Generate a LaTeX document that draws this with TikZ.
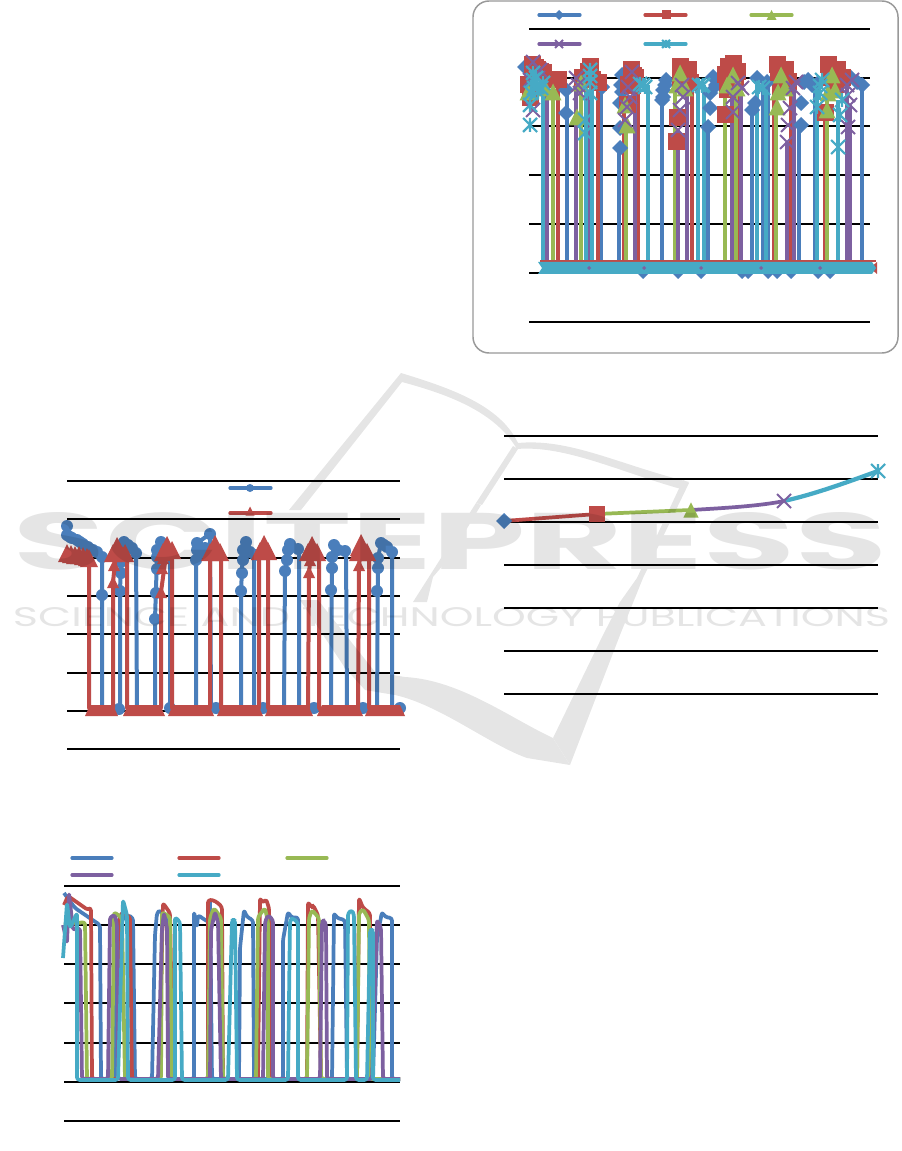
\documentclass[tikz,border=0pt]{standalone}
\usepackage{fontspec}
\newfontfamily\wmfont{Poppins}
\definecolor{seriesblue}{HTML}{4A7EBB}
\definecolor{seriesred}{HTML}{BE4B48}
\definecolor{seriesgreen}{HTML}{98B954}
\definecolor{seriespurple}{HTML}{7D60A0}
\definecolor{seriesteal}{HTML}{46AAC5}
\tikzset{%
  % Specifications for style of lines:
       gridthin/.style = {draw=black, line width=0.8pt},
        gridmid/.style = {draw=black, line width=1.1pt},
      gridthick/.style = {draw=black, line width=1.5pt},
           base/.style = {line width=2.8pt, line join=round, rounded corners=2pt},
       lineblue/.style = {base, draw=seriesblue},
        linered/.style = {base, draw=seriesred},
      linegreen/.style = {base, draw=seriesgreen},
     linepurple/.style = {base, draw=seriespurple},
       lineteal/.style = {base, draw=seriesteal},
         legend/.style = {line width=2.4pt, line cap=round},
      watermark/.style = {inner sep=0pt, font=\wmfont, text=black},
}
% Markers of the charts: x, y, half size
\newcommand{\diamondmark}[3]{\fill[seriesblue] (#1,#2) ++(-#3,0) -- ++(#3,-#3) -- ++(#3,#3) -- ++(-#3,#3) -- cycle;}
\newcommand{\squaremark}[3]{\fill[seriesred] (#1,#2) ++(-#3,-#3) rectangle ++(2*#3,2*#3);}
\newcommand{\trianglemark}[4]{\fill[#4] (#1,#2) ++(0,-#3) -- ++(#3,2*#3) -- ++(-2*#3,0) -- cycle;}
\newcommand{\crossmark}[3]{\draw[seriespurple, line width=1.5pt] (#1,#2) ++(-#3,-#3) -- ++(2*#3,2*#3) ++(0,-2*#3) -- ++(-2*#3,2*#3);}
\newcommand{\starmark}[3]{\draw[seriesteal, line width=1.6pt] (#1,#2) ++(-#3,-#3) -- ++(2*#3,2*#3) ++(0,-2*#3) -- ++(-2*#3,2*#3) ++(#3,0) -- ++(0,-2*#3);}

\begin{document}
\begin{tikzpicture}[x=0.75pt, y=-0.75pt]
  \path[use as bounding box, fill=white] (0,0) rectangle (901,1151);

  % Chart at the top right: frame, legend, grid
  \draw[draw=black!40, line width=1.1pt, rounded corners=12pt] (473,1) rectangle (898,353);
  \foreach \ly in {29,273,322} \draw[gridthick] (529,\ly) -- (870,\ly);
  \foreach \ly in {78,126,175,224} \draw[gridthin] (529,\ly) -- (870,\ly);
  \draw[legend, seriesblue] (539,15) -- (580,15);
  \draw[legend, seriesred] (645,15) -- (686,15);
  \draw[legend, seriesgreen] (751,15) -- (792,15);
  \draw[legend, seriespurple] (539,44) -- (580,44);
  \draw[legend, seriesteal] (645,44) -- (686,44);
  \diamondmark{559}{15}{5}
  \squaremark{666}{15}{4.5}
  \trianglemark{771.5}{15}{5}{seriesgreen}
  \crossmark{559}{44}{4}
  \starmark{666}{44}{4}

  % Diamonds below the band
  \foreach \mx in {643,678,701,742,748,768,777,791,818,830} {\diamondmark{\mx}{272}{7}}
  % Vertical runs of each series
  \foreach \mx/\my in {567/90,601/87,619/148,662/100,708/127,752/110,763/80,768/82,799/125,815/85,862/85}
    \draw[lineblue, line width=3pt] (\mx,262) -- (\mx,\my);
  \foreach \mx/\my in {558/80,598/83,624/105,638/78,692/83,738/72,774/82,791/82,825/113}
    \draw[linered, line width=3pt] (\mx,262) -- (\mx,\my);
  \foreach \mx/\my in {553/92,581/85,626/125,675/85,725/85,736/75,776/107,827/93}
    \draw[linegreen, line width=3pt] (\mx,262) -- (\mx,\my);
  \foreach \mx/\my in {547/80,576/85,588/90,635/87,678/130,687/90,732/97,741/85,787/142,794/88,847/85,850/105}
    \draw[linepurple, line width=3pt] (\mx,262) -- (\mx,\my);
  \foreach \mx/\my in {543/85,586/90,592/80,648/85,698/85,704/85,757/85,766/88,817/90,838/100}
    \draw[lineteal, line width=3pt] (\mx,262) -- (\mx,\my);
  % Markers of each series
  \foreach \mx/\my in {525/67,566/90,566/113,602/87,620/148,620/128,620/103,621/85,622/92,622/75,662/100,663/97,663/90,665/85,666/80,708/127,710/108,710/93,713/77,720/80,716/85,752/110,755/103,757/78,767/82,801/125,801/103,804/82,812/85,818/83,808/80,850/77,857/82,862/85}
    {\diamondmark{\mx}{\my}{8}}
  \foreach \mx/\my in {532/65,535/68,537/70,540/72,543/73,552/80,558/80,530/98,528/85,582/78,588/72,598/83,592/80,590/67,631/70,633/76,635/78,628/85,627/105,632/86,677/118,676/142,680/67,684/73,688/70,690/83,680/80,728/67,733/64,737/72,725/75,725/115,727/90,735/80,777/65,785/70,788/82,778/73,782/85,828/65,837/70,842/78,830/78,825/113,835/85}
    {\squaremark{\mx}{\my}{8.5}}
  \foreach \mx/\my in {528/92,553/92,545/88,577/117,581/83,625/105,627/125,680/73,677/85,685/88,733/75,727/85,737/88,777/107,781/75,778/92,785/88,832/75,828/93,835/90,827/110}
    {\trianglemark{\mx}{\my}{8.5}{seriesgreen}}
  \foreach \mx/\my in {533/62,530/80,538/78,533/110,540/70,578/85,580/93,576/78,625/120,628/87,632/72,630/97,627/107,678/130,680/110,682/85,683/97,733/112,733/97,738/83,742/88,787/142,788/125,790/108,793/88,796/82,847/85,850/105,848/127,848/95,852/80}
    {\crossmark{\mx}{\my}{7}}
  \foreach \mx/\my in {530/125,530/105,533/73,537/87,543/83,533/80,538/92,531/93,536/78,541/88,534/88,585/133,585/120,590/70,590/82,590/93,590/76,643/85,645/87,640/84,703/85,702/86,699/85,759/87,763/88,817/107,820/93,822/80,820/86,838/147,840/115,842/100}
    {\starmark{\mx}{\my}{7}}
  % Flat part of the series
  \draw[draw=seriesred, line width=1pt] (540,261) -- (876,261);
  \fill[seriesred] (870,268) -- (877,262) -- (877,274) -- cycle;
  \fill[seriesteal] (538,262) -- (544,262) -- (872,262) -- (876,268) -- (872,274) -- (544,274) -- (538,274) -- (542,268) -- cycle;
  \foreach \mx in {589,644,701,761,820} {\fill[seriespurple] (\mx,268) ++(-2,0) -- ++(2,-2) -- ++(2,2) -- ++(-2,2) -- cycle;}

  % Chart at the left: legend and grid
  \foreach \ly in {481,519,634,749} \draw[gridthin] (67,\ly) -- (400,\ly);
  \foreach \ly in {558,596,673,711} \draw[gridmid] (67,\ly) -- (400,\ly);
  \draw[legend, seriesblue] (230,488) -- (271,488);
  \draw[legend, seriesred] (230,513) -- (271,513);
  \fill[seriesblue] (250,488) circle (4);
  \trianglemark{250}{511}{4.5}{seriesred}

  % Series of the left chart
  \draw[lineblue, line width=3pt] (67,526) -- (67,535) -- (77,540) -- (88,547) -- (102,557) -- (102,709) -- (120,709) -- (120,591) -- (121,562) -- (124,542) -- (136,553) -- (137,709) -- (155,709) -- (155,619) -- (157,557) -- (161,542) -- (170,550) -- (170,709) -- (196,709) -- (196,560) -- (197,543) -- (210,534) -- (211,709) -- (241,709) -- (241,591) -- (243,550) -- (246,542) -- (254,555) -- (254,709) -- (284,709) -- (285,571) -- (290,544) -- (299,549) -- (299,709) -- (331,709) -- (332,557) -- (334,545) -- (346,551) -- (347,709) -- (377,709) -- (378,558) -- (381,543) -- (392,552) -- (392,709) -- (404,709);
  \foreach \mx/\my in {67/526,67/535,70/537,72/538,77/540,80/542,83/544,88/547,93/550,97/552,102/557,102/595,120/591,121/573,121/562,124/542,128/545,132/548,136/553,155/619,156/593,157/569,157/557,157/550,161/542,196/560,197/550,197/543,200/553,205/548,210/534,203/552,241/591,242/573,243/560,243/550,246/542,250/552,255/555,285/571,287/560,288/550,290/544,298/549,331/590,332/568,332/557,334/545,338/550,345/551,377/591,378/568,378/558,381/543,384/545,387/547,392/552,119/709,170/708,216/708,263/708,314/708,363/708,400/708}
    {\fill[seriesblue] (\mx,\my) circle (6);}
  \draw[linered, line width=3pt] (65,553) -- (89,558) -- (89,710) -- (113,710) -- (113,582) -- (117,545) -- (127,553) -- (127,710) -- (161,710) -- (161,592) -- (167,548) -- (172,550) -- (172,710) -- (210,710) -- (210,550) -- (221,550) -- (221,710) -- (259,710) -- (259,550) -- (268,550) -- (268,710) -- (308,710) -- (309,572) -- (312,547) -- (319,552) -- (319,710) -- (358,710) -- (359,565) -- (362,543) -- (369,552) -- (369,710) -- (400,710);
  \foreach \mx/\my in {113/582,114/565,161/592,162/568,163/558,309/572,310/560,359/565}
    {\trianglemark{\mx}{\my}{6}{seriesred}}
  \foreach \mx/\my in {67/553,71/554,75/555,79/555,83/556,87/557,89/558,113/553,120/552,125/553,163/552,172/550,210/552,220/552,260/551,268/551,308/552,317/552,358/552,367/552}
    {\trianglemark{\mx}{\my}{9}{seriesred}}
  \foreach \mx/\my in {117/548,167/547,215/546,264/546,312/547,361/545}
    {\trianglemark{\mx}{\my}{11}{seriesred}}
  \foreach \xa/\xb in {85/118,123/165,168/214,217/263,265/313,317/363,365/405}
    {\fill[seriesred] (\xa,716) -- (\xa+5,705) -- (\xb-5,705) -- (\xb,716) -- cycle;}

  % Chart at the bottom left: legend and grid
  \foreach \ly in {886,925,964,1003} \draw[gridthin] (64,\ly) -- (400,\ly);
  \foreach \ly in {1043,1082,1121} \draw[gridthick] (64,\ly) -- (400,\ly);
  \draw[legend, seriesblue] (72,858) -- (112,858);
  \draw[legend, seriesred] (179,858) -- (219,858);
  \draw[legend, seriesgreen] (287,858) -- (327,858);
  \draw[legend, seriespurple] (72,875) -- (112,875);
  \draw[legend, seriesteal] (179,875) -- (219,875);

  % Series of the bottom chart
  \draw[lineblue] (64,893) -- (75,908) -- (100,925) -- (101,1079) -- (114,1079) -- (116,925) -- (128,915) -- (133,918) -- (135,1079) -- (152,1079) -- (155,935) -- (157,913) -- (160,910) -- (170,925) -- (170,1079) -- (194,1079) -- (194,912) -- (197,927) -- (198,915) -- (205,920) -- (209,922) -- (210,900) -- (212,1079) -- (239,1079) -- (240,948) -- (244,910) -- (247,917) -- (253,920) -- (254,1079) -- (283,1079) -- (283,940) -- (288,912) -- (292,918) -- (298,917) -- (298,1079) -- (332,1079) -- (334,913) -- (337,918) -- (345,920) -- (347,1079) -- (373,1079) -- (377,938) -- (382,912) -- (385,917) -- (392,918) -- (392,1079) -- (400,1079);
  \draw[linered] (64,905) -- (68,896) -- (88,910) -- (91,908) -- (92,1079) -- (118,1079) -- (119,920) -- (122,912) -- (130,917) -- (132,1079) -- (159,1079) -- (163,903) -- (170,913) -- (173,1079) -- (208,1079) -- (208,900) -- (213,900) -- (218,903) -- (222,907) -- (223,1079) -- (258,1079) -- (260,898) -- (263,903) -- (266,899) -- (269,908) -- (272,1079) -- (307,1079) -- (308,902) -- (312,908) -- (313,905) -- (318,915) -- (321,1079) -- (357,1079) -- (359,898) -- (363,908) -- (370,913) -- (370,1079) -- (400,1079);
  \draw[linegreen] (64,925) -- (85,922) -- (87,1079) -- (112,1079) -- (114,912) -- (122,918) -- (125,1079) -- (161,1079) -- (162,912) -- (170,917) -- (172,1079) -- (208,1079) -- (210,918) -- (214,908) -- (221,918) -- (223,1079) -- (256,1079) -- (258,917) -- (265,908) -- (268,922) -- (268,1079) -- (307,1079) -- (309,918) -- (312,910) -- (319,918) -- (321,1079) -- (357,1079) -- (359,913) -- (363,909) -- (369,920) -- (370,1079) -- (400,1079);
  \draw[linepurple] (63,925) -- (67,943) -- (69,893) -- (73,930) -- (80,928) -- (82,1079) -- (108,1079) -- (110,917) -- (115,915) -- (117,925) -- (118,1079) -- (158,1079) -- (162,928) -- (164,913) -- (167,928) -- (168,1079) -- (210,1079) -- (211,930) -- (215,912) -- (218,922) -- (221,1079) -- (263,1079) -- (265,922) -- (268,915) -- (273,920) -- (273,1079) -- (320,1079) -- (322,922) -- (324,920) -- (326,925) -- (327,1079) -- (372,1079) -- (377,920) -- (381,928) -- (383,1079) -- (400,1079);
  \draw[lineteal] (63,958) -- (67,903) -- (70,928) -- (77,913) -- (77,1080) -- (118,1080) -- (123,900) -- (127,915) -- (128,1080) -- (175,1080) -- (175,917) -- (180,922) -- (182,1080) -- (228,1080) -- (232,920) -- (235,920) -- (237,1080) -- (288,1080) -- (290,920) -- (293,918) -- (298,923) -- (298,1080) -- (347,1080) -- (348,913) -- (352,910) -- (354,915) -- (356,1080) -- (367,1080) -- (370,930) -- (373,930) -- (373,1080) -- (400,1080);

  % Chart at the right: grid and one rising series
  \foreach \ly in {522,608,651} \draw[gridthin] (504,\ly) -- (878,\ly);
  \foreach \ly in {436,479,565} \draw[gridmid] (504,\ly) -- (878,\ly);
  \draw[gridthick, line width=2pt] (504,694) -- (878,694);
  \draw[linered] (504,521) -- (597,514);
  \draw[linegreen] (597,514) -- (691,510);
  \draw[linepurple] (691,510) .. controls (725,508) and (760,506) .. (784,501);
  \draw[lineteal, line width=3.2pt] (784,501) .. controls (815,494) and (845,483) .. (878,471);
  \diamondmark{504}{521}{8}
  \squaremark{597}{514}{7.7}
  \trianglemark{691}{510}{7.7}{seriesgreen}
  \crossmark{784}{501}{7}
  \starmark{878}{471}{7}

  % Watermark over everything
  \begin{scope}[transparency group, opacity=0.1]
    \node(wmtitle) [watermark, font=\wmfont\bfseries] at (450.5,541.5) {\resizebox{654.75pt}{42.75pt}{SCITEPRESS}};
    \node(wmsub)   [watermark] at (451.5,617.5) {\resizebox{657.75pt}{14.25pt}{SCIENCE AND TECHNOLOGY PUBLICATIONS}};
    % Top wing of the mark
    \fill (289,510) -- (401,373) .. controls (450,388) and (500,405) .. (518,443)
       .. controls (570,438) and (620,465) .. (689,482) -- (681,489)
       .. controls (620,472) and (565,445) .. (517,449)
       .. controls (495,412) and (450,395) .. (402,382) -- (301,510) -- cycle;
    \fill (513,446) -- (518,449) -- (482,505) -- (476,503) -- cycle;
    \fill (476,503) -- (481,505) -- (450,557) -- (433,577) -- (427,602) -- (413,602) -- cycle;
    % Stripe and tail
    \fill (683,480) -- (689,483) -- (643,578) -- (620,635) -- (570,765) -- (553,738) -- (603,635) -- (620,602) -- (637,578) -- cycle;
    \fill (553,738) .. controls (510,718) and (460,680) .. (405,677) -- (375,672) -- (318,600) -- (300,600) -- (345,668) -- (365,690) -- (395,695)
       .. controls (440,705) and (490,745) .. (527,758) -- (570,765) -- cycle;
  \end{scope}
\end{tikzpicture}
\end{document}
